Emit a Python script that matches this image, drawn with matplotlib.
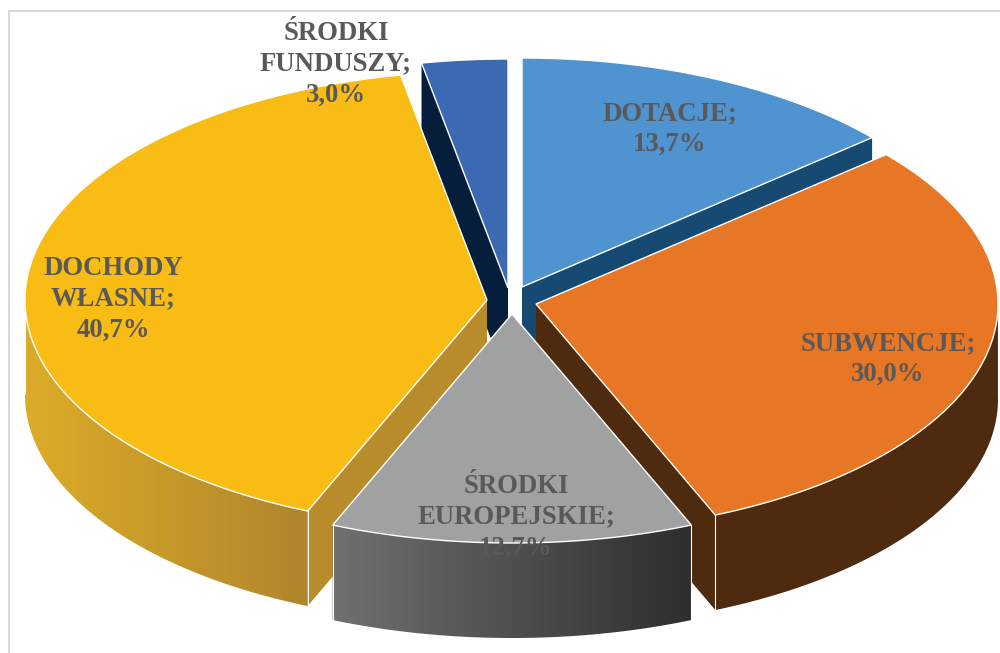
#!/usr/bin/env python3
"""Exploded 3D-look pie chart of budget income shares."""

import matplotlib

matplotlib.use("Agg")
import matplotlib.pyplot as plt
import numpy as np
from matplotlib.colors import to_rgb
from matplotlib.patches import Polygon

# Data
labels = [
    "DOTACJE",
    "SUBWENCJE",
    "ŚRODKI\nEUROPEJSKIE",
    "DOCHODY\nWŁASNE",
    "ŚRODKI\nFUNDUSZY",
]
values = [13.7, 30.0, 12.7, 40.7, 3.0]

# Colours: top face, wall at the start of the arc, wall at the end of it
top_colors = ["#4F94D0", "#E87725", "#A0A2A1", "#F9BC15", "#3B6AB3"]
wall_start = ["#174A72", "#4E2A0E", "#2E2E2E", "#B0852C", "#041E3C"]
wall_end = ["#174A72", "#4E2A0E", "#707070", "#DCAC28", "#041E3C"]
face_colors = ["#174A72", "#4E2A0E", "#555555", "#B98C2B", "#041E3C"]

# Layout, in image pixels
apex = [(522, 287), (536, 304), (512, 314), (487, 300), (508, 288)]
label_pos = [(670, 129), (888, 359), (516, 517), (113, 299), (336, 64)]
RX, RY = 462, 229
DEPTH = 95
TEXT_COLOR = "#595959"


def rim(center, angle, drop=0):
    """Point on the pie rim for an angle in radians"""
    x = center[0] + RX * np.cos(angle)
    y = center[1] - RY * np.sin(angle) + drop
    return x, y


def draw_slice(ax, i, a0, a1, z):
    """Draw the side faces, outer wall and top of one slice"""
    c = apex[i]

    # Radial faces, hidden parts get covered by the top afterwards
    for a in (a0, a1):
        x, y = rim(c, a)
        pts = [c, (x, y), (x, y + DEPTH), (c[0], c[1] + DEPTH)]
        ax.add_patch(
            Polygon(pts, facecolor=face_colors[i], edgecolor="none", zorder=z)
        )

    # Outer wall, only where the rim faces the viewer
    t = np.linspace(a0, a1, 200)
    t = t[np.sin(t) < 0.02]
    if len(t) > 1:
        xs, ys = rim(c, t)
        outline = list(zip(xs, ys)) + list(zip(xs[::-1], ys[::-1] + DEPTH))
        wall = Polygon(outline, facecolor="none", edgecolor="none", zorder=z)
        ax.add_patch(wall)

        # Horizontal gradient clipped to the wall shape
        c0, c1 = np.array(to_rgb(wall_start[i])), np.array(to_rgb(wall_end[i]))
        mix = np.linspace(0, 1, 256)[:, None]
        gradient = (c1 + (c0 - c1) * mix)[None, :, :]
        img = ax.imshow(
            gradient,
            extent=[xs.min(), xs.max(), ys.max() + DEPTH, ys.min()],
            aspect="auto",
            interpolation="bilinear",
            zorder=z,
        )
        img.set_clip_path(wall)

        for end in (0, -1):
            ax.plot(
                [xs[end]] * 2,
                [ys[end], ys[end] + DEPTH],
                color="white",
                linewidth=0.8,
                zorder=z,
            )

    # Top face
    arc = np.linspace(a0, a1, 200)
    xs, ys = rim(c, arc)
    pts = [c] + list(zip(xs, ys))
    ax.add_patch(
        Polygon(pts, facecolor=top_colors[i], edgecolor="white", linewidth=1.0, zorder=z)
    )


def main():
    fig = plt.figure(figsize=(10, 6.53), dpi=100)
    ax = fig.add_axes([0, 0, 1, 1])

    # Chart frame, cut off on the right and at the bottom of the picture
    ax.plot([1000, 8.5, 8.5], [10.5, 10.5, 653], color="#D9D9D9", linewidth=1.5)

    # Slices run clockwise from the top
    shares = np.array(values) / sum(values)
    edges = np.pi / 2 - 2 * np.pi * np.concatenate(([0], np.cumsum(shares)))

    # Painter's order, back to front
    for rank, i in enumerate((4, 0, 3, 1, 2)):
        draw_slice(ax, i, edges[i], edges[i + 1], 3 + rank)

    for i, name in enumerate(labels):
        pct = f"{values[i]:.1f}".replace(".", ",")
        ax.text(
            label_pos[i][0],
            label_pos[i][1],
            f"{name};\n{pct}%",
            ha="center",
            va="center",
            family="Liberation Serif",
            fontweight="bold",
            fontsize=19.3,
            linespacing=1.3,
            color=TEXT_COLOR,
            zorder=20,
        )

    ax.set_xlim(0, 1000)
    ax.set_ylim(653, 0)
    ax.axis("off")

    fig.savefig("out.png", dpi=100, facecolor="white")
    plt.close(fig)


if __name__ == "__main__":
    main()
